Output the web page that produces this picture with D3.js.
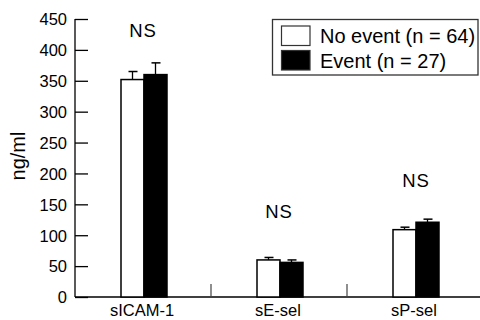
<!DOCTYPE html>
<html><head><meta charset="utf-8">
<script src="https://cdn.jsdelivr.net/npm/d3@7"></script>
<style>
html,body{margin:0;padding:0;background:#fff;}
svg{display:block;font-family:"Liberation Sans",Arial,Helvetica,sans-serif;}
</style></head>
<body><svg id="c" width="480" height="320"></svg>
<script>
const categories = ["sICAM-1", "sE-sel", "sP-sel"];
const seriesNames = ["No event (n = 64)", "Event (n = 27)"];
const noEvent = [352, 60, 109];
const noEventErr = [365, 64, 113];
const eventVals = [360, 56, 121];
const eventErr = [379, 60, 126];
const nsLabels = ["NS", "NS", "NS"];
const nsLabelValue = [421, 128, 178];
const yTicks = [0, 50, 100, 150, 200, 250, 300, 350, 400, 450];

const svg = d3.select("#c");
const y = d3.scaleLinear().domain([0, 450]).range([297, 19]);
const x0 = d3.scaleBand().domain(categories).range([75, 483]);
const half = 23;
const x1 = d3.scaleBand().domain(seriesNames)
  .range([x0.bandwidth()/2 - half + 1, x0.bandwidth()/2 + half + 1]);

const rows = categories.map((c, i) => [
  {cat: c, s: seriesNames[0], v: noEvent[i], e: noEventErr[i], fill: "#fff"},
  {cat: c, s: seriesNames[1], v: eventVals[i], e: eventErr[i], fill: "#000"}
]).flat();

// y axis
const yAxis = d3.axisRight(y).tickValues(yTicks).tickSize(13).tickFormat(d3.format("d"));
const gy = svg.append("g").attr("transform", "translate(75,0)").call(yAxis);
gy.select(".domain").attr("stroke", "#000").attr("stroke-width", 1.3).attr("d", "M0,19V297");
gy.selectAll(".tick line").attr("stroke", "#000").attr("stroke-width", 1.3);
gy.selectAll(".tick text").attr("x", -8).attr("text-anchor", "end")
  .attr("font-size", 16.5).attr("fill", "#000").attr("dy", "0.35em");

// x axis
svg.append("line").attr("x1", 75).attr("x2", 480).attr("y1", y(0)).attr("y2", y(0))
  .attr("stroke", "#000").attr("stroke-width", 1.3);
const seps = categories.slice(1).map(c => x0(c));
svg.selectAll(".sep").data(seps).enter().append("line")
  .attr("x1", d => d).attr("x2", d => d).attr("y1", y(0)).attr("y2", y(0) - 13)
  .attr("stroke", "#444").attr("stroke-width", 1.2);
svg.selectAll(".cat").data(categories).enter().append("text")
  .attr("x", d => x0(d) + x0.bandwidth()/2 - 1).attr("y", 316)
  .attr("text-anchor", "middle").attr("font-size", 16.5).text(d => d);

// y label
svg.append("text").attr("transform", "translate(25,156) rotate(-90)")
  .attr("text-anchor", "middle").attr("font-size", 20).text("ng/ml");

// error bars
const eb = svg.selectAll(".eb").data(rows).enter().append("g");
eb.append("line")
  .attr("x1", d => x0(d.cat) + x1(d.s) + x1.bandwidth()/2)
  .attr("x2", d => x0(d.cat) + x1(d.s) + x1.bandwidth()/2)
  .attr("y1", d => y(d.v)).attr("y2", d => y(d.e))
  .attr("stroke", "#000").attr("stroke-width", 1.3);
eb.append("line")
  .attr("x1", d => x0(d.cat) + x1(d.s) + x1.bandwidth()/2 - 4)
  .attr("x2", d => x0(d.cat) + x1(d.s) + x1.bandwidth()/2 + 5)
  .attr("y1", d => y(d.e)).attr("y2", d => y(d.e))
  .attr("stroke", "#000").attr("stroke-width", 1.5);

// bars
svg.selectAll(".bar").data(rows).enter().append("rect")
  .attr("x", d => x0(d.cat) + x1(d.s))
  .attr("width", x1.bandwidth())
  .attr("y", d => y(d.v))
  .attr("height", d => y(0) - y(d.v))
  .attr("fill", d => d.fill).attr("stroke", "#000").attr("stroke-width", 1.5);

// NS labels
svg.selectAll(".ns").data(categories).enter().append("text")
  .attr("x", d => x0(d) + x0.bandwidth()/2 + (d === "sP-sel" ? 1 : 0))
  .attr("y", (d, i) => y(nsLabelValue[i]))
  .attr("text-anchor", "middle").attr("font-size", 18.5).attr("letter-spacing", 1)
  .text((d, i) => nsLabels[i]);

// legend
const lg = svg.append("g");
lg.append("rect").attr("x", 272.5).attr("y", 19.5).attr("width", 205.5).attr("height", 55.5)
  .attr("fill", "#fff").attr("stroke", "#333").attr("stroke-width", 1.3);
const fills = ["#fff", "#000"];
seriesNames.forEach((s, i) => {
  lg.append("rect").attr("x", 281.5).attr("y", 26 + i * 24.5).attr("width", 28.5).attr("height", 19.5)
    .attr("fill", fills[i]).attr("stroke", "#333").attr("stroke-width", 1.2);
  lg.append("text").attr("x", 320).attr("y", 43 + i * 25).attr("font-size", 20).text(s);
});
</script></body></html>
